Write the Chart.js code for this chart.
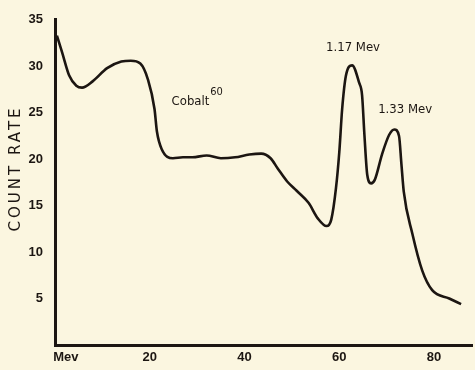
<!DOCTYPE html>
<html>
<head>
<meta charset="utf-8">
<script src="https://cdn.jsdelivr.net/npm/chart.js@4"></script>
<style>
	body { margin: 0; background: #fbf6e0; }
	#wrap { width: 475px; height: 370px; position: relative; }
</style>
</head>
<body>
<div id="wrap"><canvas id="myChart"></canvas></div>
<script>
// energy channel (x) and count rate (y)
var energy = [0.4, 1.5, 3, 4.5, 5.7, 8, 11, 14, 16, 18, 19.6, 21, 21.5, 22.5, 24.9, 27, 29, 32, 35, 38, 41, 43.5, 45.5, 47, 49, 51, 53.5, 55.5, 57.3, 58.3, 59.3, 60, 60.6, 61.4, 62.7, 64.2, 64.8, 65.3, 65.9, 66.7, 67.5, 69, 70.5, 71.6, 72.6, 73.1, 73.6, 75.4, 77.5, 79.6, 83.2, 85.7];
var countRate = [33.3, 31.5, 29, 27.9, 27.7, 28.4, 29.8, 30.5, 30.6, 30.3, 28.6, 25.4, 23, 21.1, 20.1, 20.2, 20.2, 20.4, 20.1, 20.2, 20.5, 20.6, 20.1, 19, 17.6, 16.6, 15.3, 13.6, 12.8, 13.5, 16.9, 20.8, 25.4, 29, 30.1, 28.2, 26.9, 22.6, 18.3, 17.4, 17.8, 20.5, 22.6, 23.2, 22.5, 19.5, 16.5, 12, 8, 5.9, 5, 4.4];

var xTicks = [0, 20, 40, 60, 80];
var xTickLabels = ['      Mev', '20', '40', '60', '80'];
var yTicks = [5, 10, 15, 20, 25, 30, 35];

var ink = '#1c1612';
var tickFont = { family: "'Liberation Sans', sans-serif", size: 13, weight: 'bold' };

// text written on the plot
var notes = [
	{ text: 'Cobalt', sup: '60', x: 24.6, y: 26.2 },
	{ text: '1.17 Mev', x: 57.2, y: 32 },
	{ text: '1.33 Mev', x: 68.2, y: 25.3 },
];

var notesPlugin = {
	id: 'notes',
	afterDatasetsDraw: function (chart) {
		var c = chart.ctx;
		var xs = chart.scales.x, ys = chart.scales.y;
		c.save();
		c.fillStyle = ink;
		c.textBaseline = 'middle';
		c.textAlign = 'left';
		notes.forEach(function (n) {
			var px = xs.getPixelForValue(n.x), py = ys.getPixelForValue(n.y);
			c.font = "13px 'DejaVu Sans Condensed', 'DejaVu Sans', sans-serif";
			c.fillText(n.text, px, py);
			if (n.sup) {
				var w = c.measureText(n.text).width;
				c.font = "11px 'DejaVu Sans Condensed', 'DejaVu Sans', sans-serif";
				c.fillText(n.sup, px + w + 1, py - 9);
			}
		});
		// y axis title
		c.translate(16, ys.getPixelForValue(19));
		c.rotate(-Math.PI / 2);
		c.textAlign = 'center';
		c.font = "15px 'DejaVu Sans', sans-serif";
		if ('letterSpacing' in c) c.letterSpacing = '3px';
		c.fillText('COUNT RATE', 0, 0);
		c.restore();
	},
};

var ctx = document.getElementById('myChart');
var myChart = new Chart(ctx, {
	type: 'line',
	data: {
		datasets: [
			{
				label: 'Cobalt 60',
				data: energy.map(function (e, i) { return { x: e, y: countRate[i] }; }),
				borderColor: ink,
				borderWidth: 2.6,
				pointRadius: 0,
				fill: false,
				cubicInterpolationMode: 'monotone',
			},
		],
	},
	options: {
		responsive: true,
		maintainAspectRatio: false,
		animation: false,
		layout: { padding: { left: 0, top: 16, right: 3, bottom: 0 } },
		plugins: {
			legend: { display: false },
			tooltip: { enabled: false },
		},
		scales: {
			x: {
				type: 'linear',
				min: 0,
				max: 88,
				grid: { display: false, drawTicks: false },
				border: { display: true, color: ink, width: 3 },
				afterBuildTicks: function (s) { s.ticks = xTicks.map(function (v) { return { value: v }; }); },
				afterFit: function (s) { s.height = 25; },
				ticks: {
					color: ink,
					font: tickFont,
					padding: 5,
					maxRotation: 0,
					callback: function (v) { return xTickLabels[xTicks.indexOf(v)]; },
				},
			},
			y: {
				min: 0,
				max: 35,
				grid: { display: false, drawTicks: false },
				border: { display: true, color: ink, width: 3 },
				afterBuildTicks: function (s) { s.ticks = yTicks.map(function (v) { return { value: v }; }); },
				afterFit: function (s) { s.width = 55; },
				ticks: {
					color: ink,
					font: tickFont,
					padding: 12,
				},
			},
		},
	},
	plugins: [notesPlugin],
});
</script>
</body>
</html>
